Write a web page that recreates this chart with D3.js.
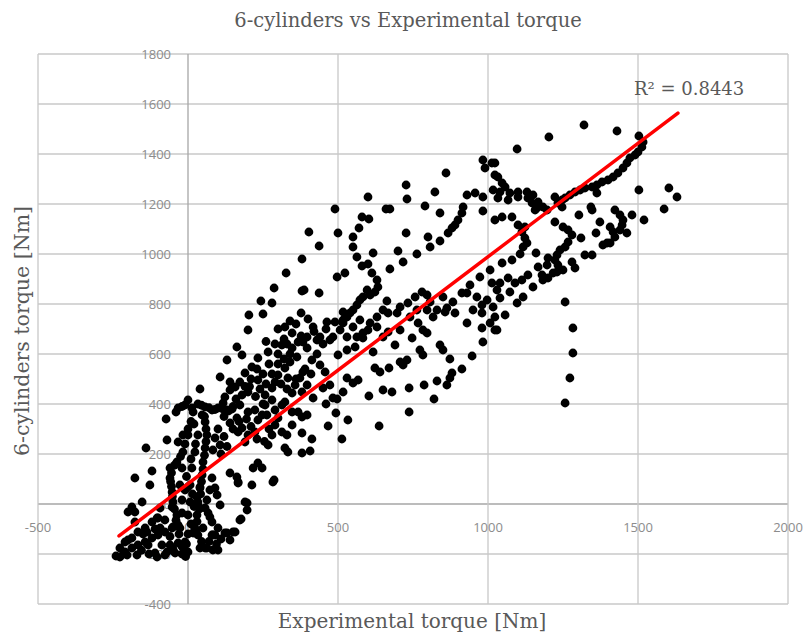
<!DOCTYPE html>
<html lang="en">
<head>
<meta charset="UTF-8">
<title>6-cylinders vs Experimental torque</title>
<script src="https://cdn.jsdelivr.net/npm/d3@7"></script>
<style>
  body { margin: 0; background: #fff; }
  svg { display: block; }
</style>
</head>
<body>
<script>
// tick values
var xTicks = [-500, 0, 500, 1000, 1500, 2000];
var yTicks = [-400, -200, 0, 200, 400, 600, 800, 1000, 1200, 1400, 1600, 1800];

// [experimental torque, 6-cylinders torque]
var lowCluster = [
  [-227,-212],[-240,-208],[-203,-204],[-170,-204],[-210,-192],[-187,-176],[-167,-164],[-143,-152],
  [-120,-136],[-100,-124],[-77,-112],[-53,-96],[-33,-84],[-210,-152],[-187,-136],[-167,-112],
  [-143,-96],[-120,-72],[-100,-56],[-110,-196],[-103,-212],[-77,-204],[-70,-192],[-43,-196],
  [-10,-192],[40,-176],[63,-176],[83,-184],[100,-184],[-200,-32],[-177,-72],[-60,-164],
  [-33,-156],[-153,8],[-187,-12],[-177,-32],[-103,-56],[-77,-64],[-127,76],[-93,-16],
  [-140,224],[-120,132],[-177,104],[-73,340],[-70,256],[-227,-176],[-200,-144],[-133,-164],
  [-87,-164],[-137,-112],[-93,-96],[-215,-200],[-155,-185],[-130,-200],[-50,-180],[-20,-200],
  [-150,-120],[-110,-100],[-60,-130]
];
var column = [
  [-33,384],[-10,396],[13,384],[33,400],[57,388],[80,376],[100,384],[123,376],[147,380],[-40,368],[0,416],
  [17,368],[0,276],[-17,208],[-37,168],[-60,144],[-60,104],[-53,48],[-50,8],[-37,-44],[-27,-96],
  [-10,-152],[0,-192],[47,356],[33,276],[23,208],[13,144],[7,76],[7,8],[0,-44],[-20,144],
  [-27,76],[-17,276],[-33,248],[57,328],[63,276],[57,224],[50,168],[47,116],[40,64],[33,8],
  [30,-44],[23,-96],[33,-124],[80,104],[90,64],[57,-16],[80,-72],[100,-96],[80,-124],[57,-176],
  [17,-116],[50,-96],[83,-124],[123,-116],[140,-144],[157,-112],[173,-64],[197,-24],[197,4],
  [97,36],[107,-4],[73,-52],[40,-16],[30,28],[0,68],[-53,-12],[-50,-92],[-20,-36],[-20,16],
  [-10,56],[63,16],[67,-36],[73,56],[40,68],[283,88],[213,76],[167,84],[190,8],[177,-60],
  [150,-112],[130,-116],[90,-124],
  [10,330],[0,300],[-10,240],[-25,190],[-45,155],[-55,125],[-58,90],[-55,70],[-52,30],[-45,-20],
  [-40,-65],[-30,-120],[-20,-170],[-8,-210],[55,350],[60,300],[60,250],[55,195],[50,140],[45,90],
  [42,40],[38,-20],[30,-70],[27,-110],[45,-150],[70,-150],[95,-160],[110,-140],[20,320],[25,240],
  [10,180],[-5,110],[15,40],[20,-10],[10,-80],[0,-120],[-5,-160],[-20,390],[45,395],[70,385],
  [90,378],[113,382],[135,372]
];
var lowerMid = [
  [180,304],[200,276],[223,288],[190,248],[140,324],[167,288],[90,264],[107,236],[83,216],
  [223,376],[233,336],[263,356],[280,416],[290,376],[313,396],[313,288],[330,276],[347,316],
  [280,276],[267,236],[380,348],[380,204],[287,96],[323,224],[333,208],[233,164],[247,144],
  [217,144],[140,124],[163,108],[167,88],[40,460],[123,428],[117,404],[163,628],[180,596],
  [267,608],[233,584],[130,576],[107,508],[213,548],[190,524],[173,488],[157,468],[233,496],
  [200,448],[180,436],[313,636],[347,624],[367,648],[363,588],[340,568],[323,544],[300,516],
  [290,488],[280,464],[257,436],[333,504],[357,476],[380,448],[347,444],[323,408],[300,344],
  [290,316],[380,284],[367,368],[347,368],[140,456],[130,376],[173,396],[200,368],[163,344],
  [257,396],[247,356],[140,488],
  [100,300],[120,270],[130,230],[110,200],[150,300],[170,330],[195,340],[210,310],[230,260],
  [255,250],[270,300],[250,400],[225,430],[205,470],[190,470],[160,420],[150,390],[120,350],
  [240,460],[260,480],[280,520],[300,560],[320,580],[340,600],[270,560],[300,600],[330,640],
  [250,520],[310,480],[330,460],[360,500],[390,540],[410,520],[430,600],[450,640],[420,690],
  [460,700],[400,740],[360,720],[320,660],[290,640],[260,650],[300,700],[230,540],[210,500]
];
var upperLoop = [
  [380,980],[327,924],[287,864],[380,852],[243,812],[280,804],[203,756],[250,760],[377,764],
  [340,732],[323,708],[200,696],[347,684],[377,672]
];
var midBand = [
  [983,1376],[1013,1364],[990,1344],[1023,1316],[860,1324],[727,1276],[823,1248],[600,1228],
  [730,1220],[930,1236],[957,1244],[983,1228],[1017,1256],[490,1180],[660,1180],[673,1180],
  [790,1192],[840,1164],[917,1188],[913,1164],[900,1136],[890,1116],[880,1104],[983,1172],
  [580,1148],[603,1140],[570,1104],[403,1088],[500,1084],[727,1084],[550,1068],[800,1068],
  [867,1084],[840,1052],[437,1032],[550,1028],[807,1028],[617,1004],[700,1012],[763,1000],
  [563,988],[717,968],[580,952],[600,960],[673,940],[613,924],[630,896],[633,868],[623,848],
  [607,836],[597,856],[583,828],[573,816],[563,796],[550,776],[540,764],[530,748],[517,736],
  [523,924],[497,908],[387,856],[437,844],[663,812],[517,768],[490,728],[463,728],[417,708],
  [630,748],[650,776],[667,764],[707,788],[733,804],[757,828],[780,848],[797,836],[807,808],
  [973,908],[1007,936],[1013,884],[1030,856],[940,876],[913,844],[883,808],[857,768],[830,776],
  [697,764],[740,748],[767,724],[783,696],[797,684],[863,784],[890,764],[980,796],[980,764],
  [1017,788],[930,724],[980,704],[600,696],[667,688],[707,696],[517,724],[507,696],[550,708],
  [573,736],[583,684],[607,724],[630,708],[650,668],[563,668],[530,668],[483,668],[440,668],
  [397,668],[930,844],[963,828],[997,816],[950,776],[1007,724],[1030,696],[850,828],[817,748],
  [797,776],[763,776]
];
var upperRight = [
  [1097,1420],[1203,1468],[1320,1516],[1430,1492],[1503,1472],[1517,1448],[1513,1428],[1500,1408],
  [1490,1396],[1473,1384],[1463,1364],[1450,1344],[1433,1324],[1417,1308],[1400,1296],[1380,1288],
  [1363,1276],[1347,1268],[1323,1264],[1307,1256],[1290,1248],[1273,1236],[1257,1224],[1247,1216],
  [1233,1204],[1023,1364],[1033,1308],[1047,1284],[1057,1268],[1040,1248],[1073,1244],[1100,1248],
  [1130,1248],[1150,1236],[1167,1208],[1183,1188],[1157,1176],[1033,1224],[1067,1216],[1100,1228],
  [1133,1224],[1147,1204],[1163,1184],[1197,1176],[1223,1228],[1247,1188],[1503,1256],[1603,1264],
  [1630,1228],[1587,1180],[1520,1136],[1363,1244],[1343,1188],[1347,1176],[1303,1156],[1423,1176],
  [1440,1156],[1450,1136],[1447,1116],[1440,1096],[1463,1084],[1480,1156],[1373,1128],[1407,1108],
  [1417,1088],[1423,1068],[1360,1084],[1397,1044],[1383,1036],[1407,1044],[1310,1064],[1323,996],
  [1347,996],[1023,1136],[1047,1148],[1080,1148],[1100,1116],[1123,1108],[1113,1088],[1123,1064],
  [1130,1044],[1117,1028],[1107,1000],[1223,1128],[1250,1108],[1267,1096],[1280,1076],[1267,1048],
  [1257,1028],[1240,1016],[1230,996],[1223,976],[1233,956],[1250,936],[1230,928],[1217,924],
  [1200,904],[1160,1004],[1080,976],[1047,964],[1200,984],[1197,956],[1167,948],[1180,916],
  [1183,896],[1150,868],[1133,916],[1113,896],[1090,884],[1067,904],[1040,884],[1280,968],
  [1290,944],[1073,848],[1040,824],[1097,804],[1117,828],[1257,808],[1057,756],[1023,748],
  [1023,696],[1283,704],[1283,604],[1273,504],[1257,404]
];
var lowerBand = [
  [983,648],[947,592],[913,540],[880,524],[873,504],[863,476],[830,492],[787,476],[820,420],
  [737,464],[737,368],[680,448],[650,456],[603,432],[637,312],[670,544],[623,544],[640,528],
  [707,568],[717,556],[730,576],[773,616],[783,596],[840,636],[850,616],[873,580],[690,636],
  [747,664],[617,608],[533,336],[513,260],[467,312],[493,364],[397,356],[413,260],[407,212],
  [497,420],[517,448],[550,484],[567,496],[530,504],[460,400],[483,424],[450,464],[473,476],
  [457,528],[440,556],[413,576],[397,624],[383,528],[373,504],[397,476],[417,424],[500,596],
  [530,616],[557,628],[583,664],[473,656],[430,656],[383,648]
];

// linear trendline (from the chart) and its label
var trendX = [-230, 1633];
var trendSlope = 0.908, trendIntercept = 81;
var r2Label = "R\u00b2 = 0.8443";

var allPoints = [].concat(lowCluster, column, lowerMid, upperLoop, midBand, upperRight, lowerBand);

var width = 804, height = 637;
var plot = {left: 38, right: 788, top: 54, bottom: 604};

var svg = d3.select('body').append('svg')
  .attr('width', width)
  .attr('height', height);

var x = d3.scaleLinear().domain([-500, 2000]).range([plot.left, plot.right]);
var y = d3.scaleLinear().domain([-400, 1800]).range([plot.bottom, plot.top]);

// gridlines
svg.append('g').selectAll('line').data(yTicks).enter().append('line')
  .attr('x1', plot.left).attr('x2', plot.right)
  .attr('y1', function(d) { return y(d); })
  .attr('y2', function(d) { return y(d); })
  .attr('stroke', function(d) { return d === 0 ? '#a6a6a6' : '#c8c8c8'; })
  .attr('stroke-width', 1.3);

svg.append('g').selectAll('line').data(xTicks).enter().append('line')
  .attr('y1', plot.top).attr('y2', plot.bottom)
  .attr('x1', function(d) { return x(d); })
  .attr('x2', function(d) { return x(d); })
  .attr('stroke', function(d) { return d === 0 ? '#a6a6a6' : '#c8c8c8'; })
  .attr('stroke-width', 1.3);

// tick labels
svg.append('g').selectAll('text').data(yTicks).enter().append('text')
  .attr('x', x(0) - 17)
  .attr('y', function(d) { return y(d); })
  .attr('dy', '0.35em')
  .attr('text-anchor', 'end')
  .attr('font-family', 'Open Sans, sans-serif')
  .attr('font-size', '13px')
  .attr('fill', '#8c8c8c')
  .text(function(d) { return d; });

svg.append('g').selectAll('text').data(xTicks).enter().append('text')
  .attr('x', function(d) { return x(d); })
  .attr('y', y(0) + 23)
  .attr('dy', '0.35em')
  .attr('text-anchor', 'middle')
  .attr('font-family', 'Open Sans, sans-serif')
  .attr('font-size', '13px')
  .attr('fill', '#8c8c8c')
  .text(function(d) { return d; });

// points
svg.append('g').selectAll('circle').data(allPoints).enter().append('circle')
  .attr('cx', function(d) { return x(d[0]); })
  .attr('cy', function(d) { return y(d[1]); })
  .attr('r', 4.4)
  .attr('fill', '#000');

// trendline
svg.append('line')
  .attr('x1', x(trendX[0])).attr('y1', y(trendSlope * trendX[0] + trendIntercept))
  .attr('x2', x(trendX[1])).attr('y2', y(trendSlope * trendX[1] + trendIntercept))
  .attr('stroke', '#ff0000')
  .attr('stroke-width', 3.5)
  .attr('stroke-linecap', 'round');

svg.append('text')
  .attr('x', 634).attr('y', 95)
  .attr('font-family', 'DejaVu Serif, serif')
  .attr('font-size', '18px')
  .attr('fill', '#595959')
  .text(r2Label);

// titles
svg.append('text')
  .attr('x', 408).attr('y', 27)
  .attr('text-anchor', 'middle')
  .attr('font-family', 'DejaVu Serif, serif')
  .attr('font-size', '19.5px')
  .attr('fill', '#595959')
  .text('6-cylinders vs Experimental torque');

svg.append('text')
  .attr('x', 412).attr('y', 628)
  .attr('text-anchor', 'middle')
  .attr('font-family', 'DejaVu Serif, serif')
  .attr('font-size', '20px')
  .attr('fill', '#595959')
  .text('Experimental torque [Nm]');

svg.append('text')
  .attr('transform', 'translate(29,331) rotate(-90)')
  .attr('text-anchor', 'middle')
  .attr('font-family', 'DejaVu Serif, serif')
  .attr('font-size', '20.5px')
  .attr('fill', '#595959')
  .text('6-cylinders torque [Nm]');
</script>
</body>
</html>
